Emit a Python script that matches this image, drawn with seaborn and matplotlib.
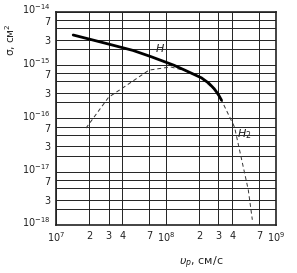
import matplotlib
matplotlib.use("Agg")
import matplotlib.pyplot as plt
import matplotlib.transforms as mtransforms
import seaborn as sns
import pandas as pd
import numpy as np
from matplotlib.ticker import FixedLocator, FixedFormatter, NullLocator

# Data
h_speed = [1.43e7, 2e7, 3e7, 5e7, 7.3e7, 1.18e8, 1.5e8, 2.1e8, 2.45e8, 2.75e8, 3.0e8, 3.2e8]
h_sigma = [3.7e-15, 3.1e-15, 2.5e-15, 1.9e-15, 1.45e-15, 1.0e-15, 8.0e-16, 5.8e-16, 4.6e-16, 3.6e-16, 2.8e-16, 2.2e-16]

h2_speed = [1.87e7, 3e7, 4.15e7, 7e7, 1.1e8, 1.5e8, 2.1e8, 2.7e8, 3.2e8, 4.2e8, 5.6e8, 6.1e8]
h2_sigma = [6.6e-17, 2.5e-16, 3.9e-16, 8.1e-16, 9.3e-16, 7.9e-16, 5.7e-16, 3.6e-16, 2.2e-16, 6.9e-17, 4.6e-18, 1.25e-18]

x_ticks = [1e7, 2e7, 3e7, 4e7, 7e7, 1e8, 2e8, 3e8, 4e8, 7e8, 1e9]
x_labels = [r"$10^7$", "2", "3", "4", "7", r"$10^8$", "2", "3", "4", "7", r"$10^9$"]
y_grid = [m * 10.0**e for e in (-18, -17, -16, -15) for m in (1, 2, 3, 5, 7)] + [1e-14]
y_ticks = [1e-18, 3e-18, 7e-18, 1e-17, 3e-17, 7e-17, 1e-16, 3e-16, 7e-16, 1e-15, 3e-15, 7e-15, 1e-14]
y_labels = [r"$10^{-18}$", "3", "7", r"$10^{-17}$", "3", "7", r"$10^{-16}$", "3", "7",
            r"$10^{-15}$", "3", "7", r"$10^{-14}$"]

sns.set_style("ticks")
plt.rcParams["font.family"] = ["DejaVu Sans"]
plt.rcParams["mathtext.fontset"] = "dejavusans"

fig = plt.figure(figsize=(2.97, 2.73), dpi=100)
ax = fig.add_axes([0.189, 0.176, 0.740, 0.780])

df_h = pd.DataFrame({"v": h_speed, "s": h_sigma})
df_h2 = pd.DataFrame({"v": h2_speed, "s": h2_sigma})

ax.set_xscale("log")
ax.set_yscale("log")
ax.set_xlim(1e7, 1e9)
ax.set_ylim(1e-18, 1e-14)

for g in x_ticks:
    ax.axvline(g, color="#222222", lw=0.7, zorder=1)
for g in y_grid:
    ax.axhline(g, color="#222222", lw=0.7, zorder=1)

sns.lineplot(data=df_h2, x="v", y="s", ax=ax, color="#333333", lw=0.7,
             linestyle=(0, (4, 3)), sort=False, zorder=3)
sns.lineplot(data=df_h, x="v", y="s", ax=ax, color="black", lw=2.0,
             sort=False, zorder=4)

ax.xaxis.set_major_locator(FixedLocator(x_ticks))
ax.xaxis.set_major_formatter(FixedFormatter(x_labels))
ax.xaxis.set_minor_locator(NullLocator())
ax.yaxis.set_major_locator(FixedLocator(y_ticks))
ax.yaxis.set_major_formatter(FixedFormatter(y_labels))
ax.yaxis.set_minor_locator(NullLocator())
ax.tick_params(axis="both", length=0, labelsize=7, pad=4, colors="#222222")

# nudge decade labels up and the "7" labels down slightly, as in the reference
up = mtransforms.ScaledTranslation(0, 3.5 / 100, fig.dpi_scale_trans)
down = mtransforms.ScaledTranslation(0, -1.0 / 100, fig.dpi_scale_trans)
for lab in ax.get_yticklabels():
    t = lab.get_text()
    if "10" in t:
        lab.set_transform(lab.get_transform() + up)
    elif t == "7":
        lab.set_transform(lab.get_transform() + down)

for sp in ax.spines.values():
    sp.set_linewidth(1.2)
    sp.set_color("#222222")

ax.text(8.1e7, 1.8e-15, "H", fontsize=8, style="italic", color="#222222", zorder=5)
ax.text(4.4e8, 4.5e-17, r"$H_2$", fontsize=8, color="#222222", zorder=5)

ax.set_xlabel(r"$\upsilon_p$, см/с", fontsize=8, color="#222222", labelpad=2)
ax.xaxis.set_label_coords(0.66, -0.14)
ax.set_ylabel("σ, см$^2$", fontsize=7.5, color="#222222", labelpad=2)
ax.yaxis.set_label_coords(-0.175, 0.87)

fig.savefig("out.png", dpi=100)
